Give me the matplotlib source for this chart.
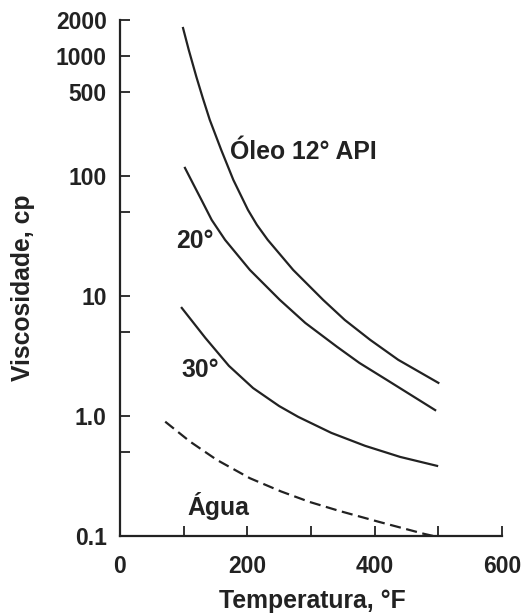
import matplotlib
matplotlib.use("Agg")
import matplotlib.pyplot as plt
from matplotlib.ticker import FixedLocator, NullFormatter

plt.rcParams['font.family'] = ['Liberation Sans', 'DejaVu Sans']
plt.rcParams['font.weight'] = 'bold'

# curvas (temperatura em F, viscosidade em cp)
t_api12 = [99, 108, 120, 130, 141, 159, 178, 201, 215, 232, 272, 319, 353, 393, 437, 500]
v_api12 = [1714, 1125, 670, 448, 294, 165, 92.9, 52.2, 39.2, 29.4, 16.5, 9.29, 6.32, 4.31, 2.94, 1.89]

t_api20 = [102, 115, 128, 144, 165, 204, 251, 291, 341, 376, 419, 495]
v_api20 = [117, 85.9, 63.2, 43.1, 29.4, 16.5, 9.29, 5.97, 3.77, 2.77, 2.0, 1.12]

t_api30 = [97, 134, 171, 209, 250, 280, 332, 385, 440, 498]
v_api30 = [7.96, 4.48, 2.62, 1.71, 1.21, 0.983, 0.723, 0.564, 0.456, 0.384]

t_agua = [71, 110, 152, 204, 253, 298, 344, 407, 478, 492]
v_agua = [0.897, 0.612, 0.431, 0.303, 0.235, 0.192, 0.162, 0.131, 0.104, 0.1]

y_ticks = [0.1, 1, 10, 100, 500, 1000, 2000]
y_tick_labels = ['0.1', '1.0', '10', '100', '500', '1000', '2000']
y_minor = [0.5, 5, 50]
x_ticks = [0, 100, 200, 300, 400, 500, 600]
x_tick_labels = ['0', '', '200', '', '400', '', '600']

fs = 16.5     # numeros dos eixos
fs_txt = 17.8 # rotulos
ink = '#222222'

fig = plt.figure(figsize=(5.27, 6.15), dpi=100)
ax = fig.add_axes([0.2277, 0.1285, 0.7249, 0.839])

lw = 1.6
ax.plot(t_api12, v_api12, color=ink, lw=lw)
ax.plot(t_api20, v_api20, color=ink, lw=lw)
ax.plot(t_api30, v_api30, color=ink, lw=lw)
ax.plot(t_agua, v_agua, color=ink, lw=lw, dashes=(5, 2.5), clip_on=False)

ax.set_yscale('log')
ax.set_xlim(0, 600)
ax.set_ylim(0.1, 2000)

ax.yaxis.set_major_locator(FixedLocator(y_ticks))
ax.set_yticklabels(y_tick_labels)
ax.yaxis.set_minor_locator(FixedLocator(y_minor))
ax.yaxis.set_minor_formatter(NullFormatter())
ax.set_xticks(x_ticks)
ax.set_xticklabels(x_tick_labels)

ax.tick_params(axis='both', which='both', direction='in', length=7, width=1.3,
               labelsize=fs, colors=ink)
ax.tick_params(axis='y', which='both', pad=9.5)
ax.tick_params(axis='x', pad=13.5)

for s in ['top', 'right']:
    ax.spines[s].set_visible(False)
for s in ['left', 'bottom']:
    ax.spines[s].set_linewidth(1.6)
    ax.spines[s].set_color(ink)

ax.set_xlabel('Temperatura, °F', fontsize=fs_txt, fontweight='bold', color=ink, va='center')
ax.set_ylabel('Viscosidade, cp', fontsize=fs_txt, fontweight='bold', color=ink, va='center')
ax.xaxis.set_label_coords(0.503, -0.126)
ax.yaxis.set_label_coords(-0.255, 0.481)

tk = dict(fontsize=fs_txt, fontweight='bold', color=ink, ha='center', va='center')
ax.text(288, 158, 'Óleo 12° API', **tk)
ax.text(117, 29, '20°', **tk)
ax.text(126, 2.42, '30°', **tk)
ax.text(154, 0.178, 'Água', **tk)

fig.savefig('out.png', dpi=100)
